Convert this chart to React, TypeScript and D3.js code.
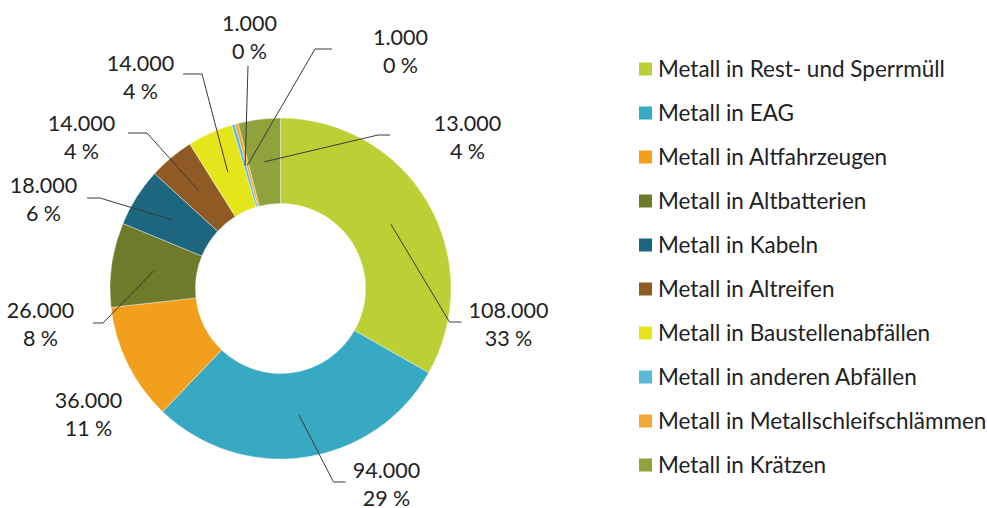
import React from 'react';
import * as d3 from 'd3';

const categories = [
  'Metall in Rest- und Sperrmüll',
  'Metall in EAG',
  'Metall in Altfahrzeugen',
  'Metall in Altbatterien',
  'Metall in Kabeln',
  'Metall in Altreifen',
  'Metall in Baustellenabfällen',
  'Metall in anderen Abfällen',
  'Metall in Metallschleifschlämmen',
  'Metall in Krätzen',
];
const values = [108000, 94000, 36000, 26000, 18000, 14000, 14000, 1000, 1000, 13000];
const colors = [
  '#bccf35', '#38a9c3', '#f29f1e', '#6f7a2b', '#1d6680',
  '#8f5a24', '#e4e61b', '#5cb9d4', '#f3a735', '#8fa23c',
];

// label layout relative to the donut centre: [x of text centre, y of first line centre]
const labelOffsets: [number, number][] = [
  [228, 21.5], [106, 181.5], [-192, 111.5], [-240, 21.5], [-237, -103.5],
  [-199, -165.5], [-140, -225.5], [-31, -265.5], [120, -251.5], [187, -165.5],
];
// leader-line end points relative to centre (null = no leader)
const leaderEnds: ([number, number] | null)[] = [
  [181, 33.5], [65, 193.5], null, [-187.5, 34.5], [-193.5, -90.5],
  [-152.5, -155.5], [-97.5, -214.5], [-32.5, -222.5], [51.5, -239.5], [109.5, -153.5],
];
const elbowDx = [-12, -12, 0, 10, 13, 19, 19, 0, -17, -12];

const W = 987;
const H = 508;
const CX = 280.5;
const CY = 288.5;
const R_OUT = 170.5;
const R_IN = 85;
const FONT = 'Lato, "Open Sans", sans-serif';

const de = d3.formatLocale({ decimal: ',', thousands: '.', grouping: [3], currency: ['', ' €'] });
const fmt = de.format(',.0f');

export default function App() {
  const total = d3.sum(values);
  const pie = d3.pie<number>().sort(null).value((d) => d).startAngle(0).endAngle(2 * Math.PI);
  const arcs = pie(values);
  const arc = d3.arc<d3.PieArcDatum<number>>().innerRadius(R_IN).outerRadius(R_OUT);

  return (
    <svg width={W} height={H} style={{ position: 'absolute', left: 0, top: 0, background: '#fff' }}
      fontFamily={FONT}>
      <rect width={W} height={H} fill="#fff" />
      <g transform={`translate(${CX},${CY})`}>
        {arcs.map((a, i) => (
          <path key={i} d={arc(a) || ''} fill={colors[i]} stroke="#fff" strokeWidth={0.4} />
        ))}
        {arcs.map((a, i) => {
          const end = leaderEnds[i];
          if (!end) return null;
          const [sx, sy] = arc.centroid(a);
          const elbow = [end[0] + elbowDx[i], end[1]];
          const p = d3.path();
          p.moveTo(sx, sy);
          p.lineTo(elbow[0], elbow[1]);
          p.lineTo(end[0], end[1]);
          return <path key={'l' + i} d={p.toString()} fill="none" stroke="#3a3a3a" strokeWidth={1} />;
        })}
        {arcs.map((a, i) => {
          const [lx, ly] = labelOffsets[i];
          const pct = Math.round((values[i] / total) * 100);
          return (
            <text key={'t' + i} x={lx} textAnchor="middle" fontSize={21.5} fill="#222">
              <tspan x={lx} y={ly} dy="0.35em">{fmt(values[i])}</tspan>
              <tspan x={lx} y={ly + 28} dy="0.35em">{pct + ' %'}</tspan>
            </text>
          );
        })}
      </g>
      <g>
        {categories.map((c, i) => {
          const yc = 69 + i * 44;
          return (
            <g key={c}>
              <rect x={639} y={yc - 6.5} width={13} height={13} fill={colors[i]} />
              <text x={658} y={yc} dy="0.35em" fontSize={22.5} fill="#222">{c}</text>
            </g>
          );
        })}
      </g>
    </svg>
  );
}
